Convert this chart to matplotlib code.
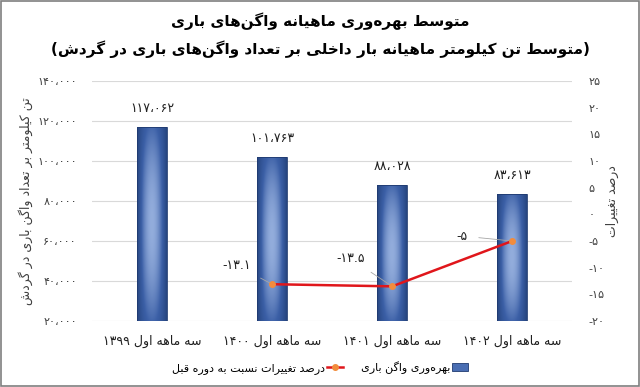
import matplotlib
matplotlib.use("Agg")
import matplotlib.pyplot as plt
import numpy as np
from matplotlib.colors import LinearSegmentedColormap
from matplotlib.lines import Line2D
from matplotlib.patches import Patch

# data
periods = ["سه ماهه اول ۱۳۹۹", "سه ماهه اول ۱۴۰۰", "سه ماهه اول ۱۴۰۱", "سه ماهه اول ۱۴۰۲"]
productivity = [117062, 101763, 88028, 83613]
change_pct = [np.nan, -13.1, -13.5, -5]
left_ticks = [20000, 40000, 60000, 80000, 100000, 120000, 140000]
right_ticks = [-20, -15, -10, -5, 0, 5, 10, 15, 20, 25]

title1 = "متوسط بهره\u200cوری ماهیانه واگن\u200cهای باری"
title2 = "(متوسط تن کیلومتر ماهیانه بار داخلی بر تعداد واگن\u200cهای باری در گردش)"
ylabel_left = "تن کیلومتر بر تعداد واگن باری در گردش"
ylabel_right = "درصد تغییرات"
legend_bar = "بهره\u200cوری واگن باری"
legend_line = "درصد تغییرات نسبت به دوره قبل"


# --- minimal arabic/persian shaping (matplotlib has no complex text layout) ---
TWO = {'آ': 0xFE81, 'أ': 0xFE83, 'ؤ': 0xFE85, 'إ': 0xFE87, 'ا': 0xFE8D, 'ة': 0xFE93,
       'د': 0xFEA9, 'ذ': 0xFEAB, 'ر': 0xFEAD, 'ز': 0xFEAF, 'و': 0xFEED, 'ى': 0xFEEF,
       'ژ': 0xFB8A}
FOUR = {'ئ': 0xFE89, 'ب': 0xFE8F, 'ت': 0xFE95, 'ث': 0xFE99, 'ج': 0xFE9D, 'ح': 0xFEA1,
        'خ': 0xFEA5, 'س': 0xFEB1, 'ش': 0xFEB5, 'ص': 0xFEB9, 'ض': 0xFEBD, 'ط': 0xFEC1,
        'ظ': 0xFEC5, 'ع': 0xFEC9, 'غ': 0xFECD, 'ف': 0xFED1, 'ق': 0xFED5, 'ك': 0xFED9,
        'ل': 0xFEDD, 'م': 0xFEE1, 'ن': 0xFEE5, 'ه': 0xFEE9, 'ي': 0xFEF1, 'پ': 0xFB56,
        'چ': 0xFB7A, 'ک': 0xFB8E, 'گ': 0xFB92, 'ی': 0xFBFC}
DIGITS = set("0123456789۰۱۲۳۴۵۶۷۸۹.,،٬")
MIRROR = {'(': ')', ')': '('}


def shape(s):
    out = []
    for i, c in enumerate(s):
        if c == '\u200c':
            continue
        if c not in TWO and c not in FOUR:
            out.append(c)
            continue
        prev = s[i - 1] if i > 0 else ''
        nxt = s[i + 1] if i + 1 < len(s) else ''
        join_prev = prev in FOUR
        join_next = c in FOUR and (nxt in FOUR or nxt in TWO)
        base = TWO.get(c, FOUR.get(c))
        if join_prev and join_next:
            form = 3
        elif join_prev:
            form = 1
        elif join_next:
            form = 2
        else:
            form = 0
        out.append(chr(base + form))
    return ''.join(out)


def rtl(s):
    s = shape(s)
    runs = []
    for c in s:
        isnum = c in DIGITS
        if runs and runs[-1][0] == isnum:
            runs[-1][1] += c
        else:
            runs.append([isnum, c])
    res = ''
    for isnum, txt in reversed(runs):
        if isnum:
            res += txt
        else:
            res += ''.join(MIRROR.get(ch, ch) for ch in reversed(txt))
    return res


def fa(num_str):
    return num_str.translate(str.maketrans("0123456789", "۰۱۲۳۴۵۶۷۸۹"))


def fa_thousands(v):
    return fa(f"{int(v):,}".replace(",", "،"))


plt.rcParams['font.family'] = ['DejaVu Sans']

fig = plt.figure(figsize=(6.4, 3.87), dpi=100)
ax = fig.add_axes([0.144, 0.1705, 0.75, 0.6202])
ax2 = ax.twinx()

x = np.arange(len(periods))
bars = ax.bar(x, productivity, width=0.25, bottom=0, facecolor='none',
              edgecolor='#1F3A70', linewidth=0.6, zorder=3)

# gradient fill for each bar
cmap = LinearSegmentedColormap.from_list('barblue', ['#26457F', '#3B5FA6', '#93ADDC'])
gx = np.linspace(-1, 1, 60)
gy = np.linspace(-1, 1, 120)
GX, GY = np.meshgrid(gx, gy)
grad = (1 - GX ** 2) * (1 - 0.45 * GY ** 2)
for b in bars:
    x0, w = b.get_x(), b.get_width()
    y1 = b.get_height()
    im = ax.imshow(grad, extent=[x0, x0 + w, 20000, y1], aspect='auto', cmap=cmap,
                   origin='lower', zorder=2, interpolation='bilinear')
    im.set_clip_path(b)

ax.set_xlim(-0.5, len(periods) - 0.5)
ax.set_ylim(20000, 140000)
ax.set_yticks(left_ticks)
ax.set_yticklabels([fa_thousands(v) for v in left_ticks], fontsize=8, color='#404040')
ax.set_xticks(x)
ax.set_xticklabels([rtl(p) for p in periods], fontsize=9, color='#202020')
ax.tick_params(axis='both', length=0)
ax.tick_params(axis='y', pad=11)
ax.tick_params(axis='x', pad=10)
ax.grid(axis='y', color='#D9D9D9', linewidth=0.8, zorder=0)
ax.set_axisbelow(True)
for sp in ax.spines.values():
    sp.set_visible(False)
ax.set_ylabel(rtl(ylabel_left), fontsize=9, color='#404040', labelpad=3)

for xi, v in zip(x, productivity):
    ax.annotate(fa_thousands(v), (xi, v), xytext=(0, 12), textcoords='offset pixels',
                ha='center', va='bottom', fontsize=9, color='#202020')

# line on secondary axis
ax2.plot(x, change_pct, color='#E0161B', linewidth=1.8, marker='o', markersize=4,
         markerfacecolor='#F28C3C', markeredgecolor='#F28C3C', zorder=5)
ax2.set_ylim(-20, 25)
ax2.set_yticks(right_ticks)
ax2.set_yticklabels([fa(str(v)) for v in right_ticks], fontsize=8, color='#404040')
ax2.tick_params(axis='y', length=0, pad=12)
for sp in ax2.spines.values():
    sp.set_visible(False)
ax2.set_ylabel(rtl(ylabel_right), fontsize=9, color='#404040', rotation=90, labelpad=1)

label_offsets = [None, (-36, 19), (-42, 28), (-50, 5)]
for xi, v, off in zip(x, change_pct, label_offsets):
    if np.isnan(v):
        continue
    ax2.annotate(fa(f"{v:g}"), (xi, v), xytext=off, textcoords='offset pixels',
                 ha='center', va='center', fontsize=9, color='#202020',
                 arrowprops=dict(arrowstyle='-', color='#A6A6A6', lw=0.6,
                                 shrinkA=6, shrinkB=2))

fig.text(0.5, 0.945, rtl(title1), ha='center', va='center', fontsize=11, fontweight='bold')
fig.text(0.5, 0.872, rtl(title2), ha='center', va='center', fontsize=11, fontweight='bold')

handles = [Line2D([0], [0], color='#E0161B', lw=1.8, marker='o', markersize=4,
                  markerfacecolor='#F28C3C', markeredgecolor='#F28C3C'),
           Patch(facecolor='#4A6EB3', edgecolor='#1F3A70', linewidth=0.6)]
fig.legend(handles, [rtl(legend_line), rtl(legend_bar)], loc='center',
           bbox_to_anchor=(0.5, 0.05), ncol=2, frameon=False, markerfirst=False,
           fontsize=8, handlelength=1.4, columnspacing=1.6, handletextpad=0.2)

# thin grey frame around the whole picture
fig.patches.append(plt.Rectangle((0.002, 0.003), 0.996, 0.994, transform=fig.transFigure,
                                 fill=False, edgecolor='#7F7F7F', linewidth=1.2))

fig.savefig('out.png', dpi=100)
